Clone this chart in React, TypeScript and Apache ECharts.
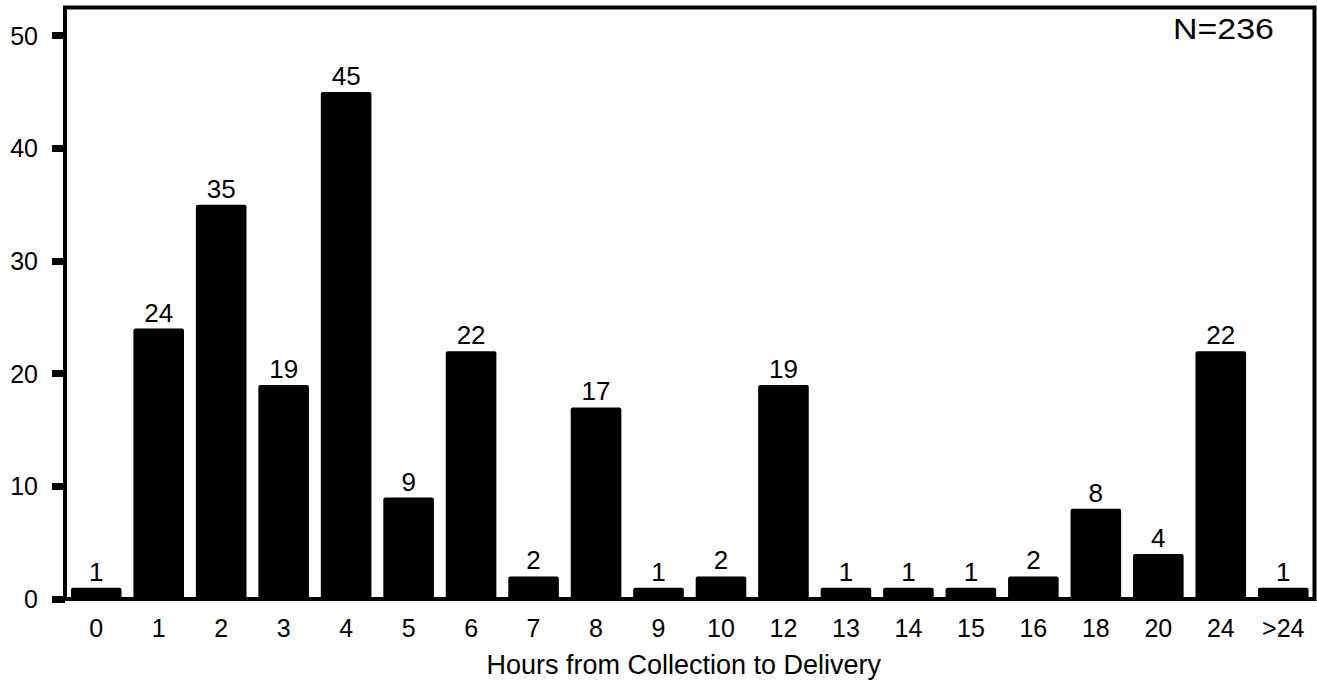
import React, { useEffect, useRef } from "react";
import * as echarts from "echarts";

const categories = ["0", "1", "2", "3", "4", "5", "6", "7", "8", "9", "10", "12", "13", "14", "15", "16", "18", "20", "24", ">24"];
const counts = [1, 24, 35, 19, 45, 9, 22, 2, 17, 1, 2, 19, 1, 1, 1, 2, 8, 4, 22, 1];
const yTicks = [0, 10, 20, 30, 40, 50];
const xTitle = "Hours from Collection to Delivery";
const nLabel = "N=236";

const FONT = "'Liberation Sans', Arial, sans-serif";

export default function App() {
  const ref = useRef<HTMLDivElement>(null);
  useEffect(() => {
    document.body.style.margin = "0";
    const chart = echarts.init(ref.current!, null, { renderer: "svg" });
    chart.setOption({
      animation: false,
      textStyle: { fontFamily: FONT },
      grid: {
        left: 65,
        right: 2.5,
        top: 7.5,
        bottom: 86,
        show: true,
        borderColor: "#000",
        borderWidth: 4,
        backgroundColor: "transparent",
      },
      xAxis: {
        type: "category",
        data: categories,
        axisLine: { show: false },
        axisTick: { show: false },
        axisLabel: { color: "#000", fontSize: 25, fontFamily: FONT, margin: 16, interval: 0 },
        name: xTitle,
        nameLocation: "middle",
        nameGap: 52,
        nameTextStyle: { color: "#000", fontSize: 27, fontFamily: FONT, padding: [0, 12, 0, 0] },
      },
      yAxis: {
        type: "value",
        min: 0,
        max: 52.5,
        interval: 10,
        splitLine: { show: false },
        axisLine: { show: false },
        axisTick: {
          show: true,
          inside: false,
          length: 13,
          lineStyle: { color: "#000", width: 7 },
          customValues: yTicks,
        },
        axisLabel: {
          color: "#000",
          fontSize: 25,
          fontFamily: FONT,
          margin: 27,
          customValues: yTicks,
        },
      },
      series: [
        {
          type: "bar",
          data: counts,
          barWidth: "81%",
          itemStyle: { color: "#000", borderRadius: 2 },
          label: {
            show: true,
            position: "top",
            distance: 3,
            color: "#000",
            fontSize: 26,
            fontFamily: FONT,
          },
        },
      ],
      graphic: [
        {
          type: "text",
          x: 1173,
          y: 29,
          scaleX: 1.17,
          style: {
            text: nLabel,
            fill: "#000",
            fontSize: 29,
            fontFamily: FONT,
            textAlign: "left",
            textVerticalAlign: "middle",
          },
        },
      ],
    });
    return () => chart.dispose();
  }, []);
  return <div ref={ref} style={{ width: 1317, height: 685 }} />;
}
